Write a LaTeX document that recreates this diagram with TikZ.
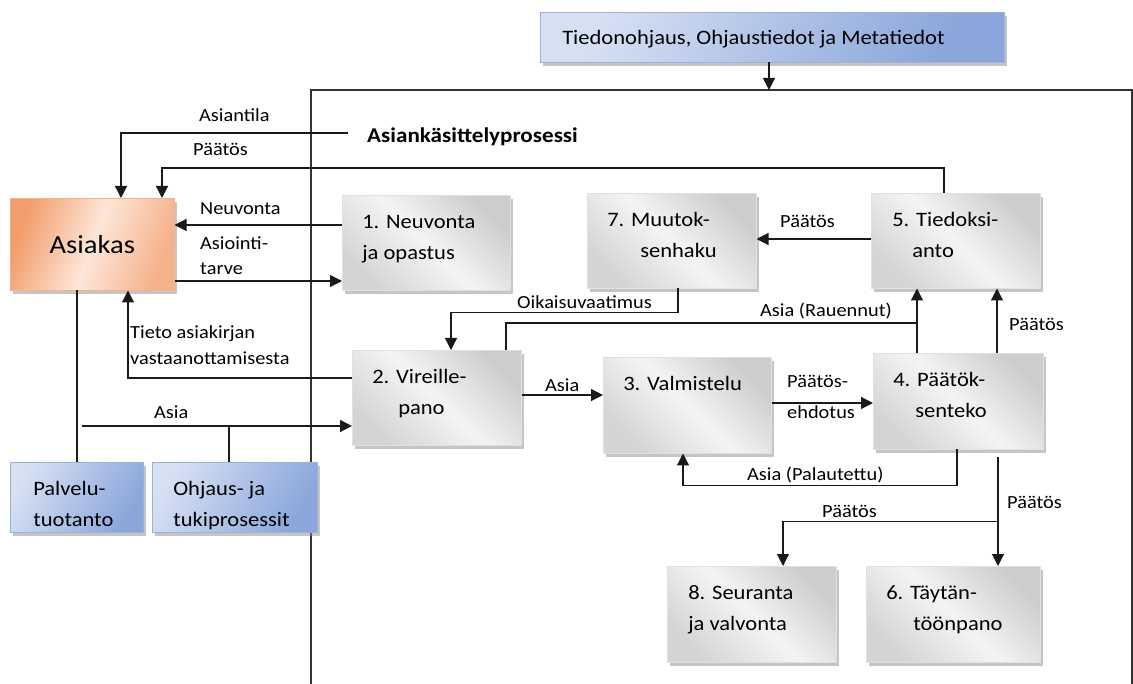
\documentclass[tikz,border=0pt]{standalone}
\usepackage{fontspec}
\setmainfont{Carlito}[FakeStretch=1.1]
\usetikzlibrary{arrows.meta,shadows}

\definecolor{lineC}{HTML}{1A1A1A}
\definecolor{frameC}{HTML}{333333}
\definecolor{grayDark}{HTML}{CDCDCD}
\definecolor{grayLight}{HTML}{F4F4F4}
\definecolor{blueLight}{HTML}{D6E0F3}
\definecolor{blueDark}{HTML}{8AA6DA}
\definecolor{blueEdge}{HTML}{9CB0DA}
\definecolor{orangeDark}{HTML}{F29E6C}
\definecolor{orangeLight}{HTML}{FDE6D8}
\definecolor{orangeMid}{HTML}{F5B189}

% text block of a box: width, height, first baseline, lines
\newcommand\boxtext[4]{\parbox[t][#2][t]{#1}{\raggedright\rule{0pt}{#3}#4}}

\begin{document}
\begin{tikzpicture}[x=1pt,y=-1pt,
  line/.style={line width=1.2pt, draw=lineC},
  arr/.style={line, -{Triangle[length=12pt,width=12pt]}},
  frame/.style={line width=1.1pt, draw=frameC},
  lbl/.style={font=\fontsize{18.5}{22}\selectfont, inner sep=0pt, anchor=base west},
  boxshadow/.style={drop shadow={shadow xshift=3pt, shadow yshift=-4pt, fill=black!45, opacity=0.5}},
  gbox/.style={anchor=north west, inner sep=0pt, draw=black!12, line width=0.5pt,
    top color=grayDark, bottom color=grayDark!85, middle color=grayLight, shading angle=-45,
    boxshadow, font=\fontsize{20.5}{31}\selectfont},
  bbox/.style={anchor=north west, inner sep=0pt, draw=blueEdge, line width=0.5pt,
    top color=blueLight, bottom color=blueDark, shading angle=60,
    boxshadow, font=\fontsize{20.5}{31}\selectfont},
  obox/.style={anchor=north west, inner sep=0pt, draw=orangeMid, line width=0.5pt,
    top color=orangeDark, bottom color=orangeMid, middle color=orangeLight, shading angle=70,
    boxshadow, font=\fontsize{26}{30}\selectfont}
]
\useasboundingbox (0,0) rectangle (1133,684);
\fill[white] (0,0) rectangle (1133,684);

% frame of the handling process
\coordinate (fTL) at (311,90);
\coordinate (fTR) at (1132,90);
\coordinate (fBL) at (311,684);
\coordinate (fBR) at (1132,684);
\draw[frame] (fBL) -- (fTL) -- (fTR) -- (fBR);

% boxes
\node[bbox] (tb) at (540,12) {\boxtext{464pt}{50pt}{32pt}{\hspace*{22pt}Tiedonohjaus, Ohjaustiedot ja Metatiedot}};
\node[obox, minimum width=164pt, minimum height=92pt] (asiakas) at (10,198) {Asiakas};
\node[bbox] (palv) at (10,462) {\boxtext{133pt}{70pt}{33pt}{\hspace*{23pt}Palvelu-\\\hspace*{23pt}tuotanto}};
\node[bbox] (ohj) at (152,462) {\boxtext{165pt}{70pt}{33pt}{\hspace*{21pt}Ohjaus- ja\\\hspace*{21pt}tukiprosessit}};

\node[gbox] (n1) at (342,195) {\boxtext{168pt}{95pt}{33pt}{\hspace*{20pt}1. Neuvonta\\\hspace*{20pt}ja opastus}};
\node[gbox] (n7) at (587,193) {\boxtext{169pt}{95pt}{33pt}{\hspace*{20pt}7. Muutok-\\\hspace*{53pt}senhaku}};
\node[gbox] (n5) at (871,193) {\boxtext{169pt}{95pt}{33pt}{\hspace*{21pt}5. Tiedoksi-\\\hspace*{41pt}anto}};
\node[gbox] (n2) at (352,350) {\boxtext{169pt}{95pt}{33pt}{\hspace*{20pt}2. Vireille-\\\hspace*{46pt}pano}};
\node[gbox] (n3) at (603,357) {\boxtext{168pt}{96pt}{33pt}{\hspace*{20pt}3. Valmistelu}};
\node[gbox] (n4) at (873,353) {\boxtext{170pt}{96pt}{33pt}{\hspace*{20pt}4. Päätök-\\\hspace*{42pt}senteko}};
\node[gbox] (n8) at (667,566) {\boxtext{169pt}{96pt}{33pt}{\hspace*{21pt}8. Seuranta\\\hspace*{21pt}ja valvonta}};
\node[gbox] (n6) at (866,566) {\boxtext{174pt}{96pt}{33pt}{\hspace*{20pt}6. Täytän-\\\hspace*{47pt}töönpano}};

% steering information into the process
\coordinate (fIn) at (769,90);
\draw[arr] (tb.south -| fIn) -- (fIn);

% customer side
\coordinate (tilaEnd) at (348,133);
\draw[arr] (tilaEnd) -| ([xshift=111pt]asiakas.north west);
\draw[arr] ([xshift=73pt]n5.north west) -- ++(0,-25) -| ([xshift=152pt]asiakas.north west);

\coordinate (neuvY) at ([yshift=-30pt]n1.north west);
\draw[arr] (neuvY) -- (asiakas.east |- neuvY);
\coordinate (asioY) at ([yshift=-86pt]n1.north west);
\draw[arr] (asiakas.east |- asioY) -- (asioY);

\coordinate (tietoY) at ([yshift=-28pt]n2.north west);
\draw[arr] (tietoY) -| ([xshift=118pt]asiakas.south west);

\coordinate (asiaStart) at (82,426);
\draw[arr] (asiaStart) -- (asiaStart -| n2.west);

\coordinate (palvX) at ([xshift=67pt]asiakas.south west);
\draw[line] (palvX) -- (palvX |- palv.north);
\coordinate (ohjX) at ([xshift=77pt]ohj.north west);
\draw[line] (ohjX) -- (ohjX |- asiaStart);

% process flow
\coordinate (oikX) at ([xshift=91pt]n7.south west);
\draw[arr] (oikX) -- ++(0,24) -| ([xshift=99pt]n2.north west);

\coordinate (rauX) at ([xshift=44pt]n4.north west);
\draw[line] ([xshift=154pt]n2.north west) -- ++(0,-27) coordinate (rauBend) -- (rauBend -| rauX);
\draw[arr] (rauX) -- (rauX |- n5.south);

\coordinate (p45X) at ([xshift=124pt]n4.north west);
\draw[arr] (p45X) -- (p45X |- n5.south);

\coordinate (p57Y) at ([yshift=-46pt]n5.north west);
\draw[arr] (p57Y) -- (p57Y -| n7.east);

\coordinate (a23) at ([yshift=-45pt]n2.north east);
\draw[arr] (a23) -- (a23 -| n3.west);

\coordinate (pe) at ([yshift=-46pt]n3.north east);
\draw[arr] (pe) -- (pe -| n4.west);

\coordinate (palX) at ([xshift=84pt]n4.south west);
\draw[arr] (palX) -- ++(0,36) -| ([xshift=80pt]n3.south west);

\coordinate (pdX) at ([xshift=125pt,yshift=-8pt]n4.south west);
\draw[arr] (pdX) -- (pdX |- n6.north);
\path (pdX) -- ++(0,64) coordinate (br);
\draw[arr] (br) -| ([xshift=116pt]n8.north west);

% labels
\node[lbl, font=\bfseries\fontsize{21}{24}\selectfont] (title) at (367,143) {Asiankäsittelyprosessi};
\node[lbl] (lTila) at (199,122) {Asiantila};
\node[lbl] (lPaat1) at (193,156) {Päätös};
\node[lbl] (lNeuv) at (200,215) {Neuvonta};
\node[lbl] (lAsioi1) at (200,250) {Asiointi-};
\node[lbl] (lAsioi2) at (200,275) {tarve};
\node[lbl] (lTieto1) at (130,339) {Tieto asiakirjan};
\node[lbl] (lTieto2) at (130,365) {vastaanottamisesta};
\node[lbl] (lAsia1) at (154,419) {Asia};
\node[lbl] (lOik) at (517,309) {Oikaisuvaatimus};
\node[lbl] (lRau) at (760,317) {Asia (Rauennut)};
\node[lbl] (lPaat57) at (780,228) {Päätös};
\node[lbl] (lPaat45) at (1009,331) {Päätös};
\node[lbl] (lAsia23) at (545,392) {Asia};
\node[lbl] (lPe1) at (787,388) {Päätös-};
\node[lbl] (lPe2) at (787,419) {ehdotus};
\node[lbl] (lPal) at (747,480) {Asia (Palautettu)};
\node[lbl] (lPaatBr) at (822,517) {Päätös};
\node[lbl] (lPaat46) at (1007,508) {Päätös};
\end{tikzpicture}
\end{document}
